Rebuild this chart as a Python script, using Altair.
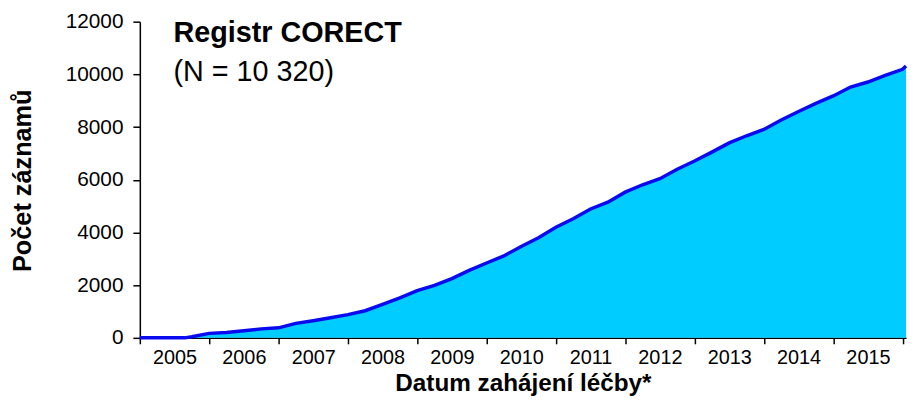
import altair as alt
import pandas as pd

# Cumulative number of records by treatment start date (fractional years)
dates = [2005.00, 2005.25, 2005.50, 2005.65, 2005.75, 2006.00, 2006.25, 2006.50, 2006.75,
         2007.00, 2007.25, 2007.50, 2007.75, 2008.00, 2008.25, 2008.50, 2008.75,
         2009.00, 2009.25, 2009.50, 2009.75, 2010.00, 2010.25, 2010.50, 2010.75,
         2011.00, 2011.25, 2011.50, 2011.75, 2012.00, 2012.25, 2012.50, 2012.75,
         2013.00, 2013.25, 2013.50, 2013.75, 2014.00, 2014.25, 2014.50, 2014.75,
         2015.00, 2015.25, 2015.50, 2015.75, 2016.00, 2016.05]
records = [0, 0, 0, 0, 40, 170, 200, 270, 340,
           380, 550, 650, 760, 880, 1030, 1270, 1520,
           1790, 1990, 2250, 2560, 2840, 3110, 3470, 3800,
           4200, 4520, 4890, 5150, 5530, 5810, 6040, 6400,
           6710, 7050, 7400, 7670, 7910, 8270, 8590, 8900,
           9180, 9520, 9710, 9960, 10190, 10320]
year_ticks = list(range(2005, 2017))
y_ticks = [0, 2000, 4000, 6000, 8000, 10000, 12000]

title_main = "Registr CORECT"
title_sub = "(N = 10 320)"
x_title = "Datum zahájení léčby*"
y_title = "Počet záznamů"

df = pd.DataFrame({"date": dates, "n": records})

FONT = "Liberation Sans"

x = alt.X("date:Q",
          scale=alt.Scale(domain=[2005, 2016.05], nice=False, zero=False),
          axis=alt.Axis(values=year_ticks, title=x_title,
                        labelExpr="datum.value < 2016 ? toString(datum.value) : ''",
                        labelOffset=35, labelPadding=4, labelFlush=False,
                        labelOverlap=False, tickSize=6, labelFontSize=20,
                        titleFontSize=24.5, titleY=53, titleBaseline="alphabetic"))
y = alt.Y("n:Q",
          scale=alt.Scale(domain=[0, 12000], nice=False),
          axis=alt.Axis(values=y_ticks, format="d", title=y_title, tickSize=7,
                        labelPadding=10, labelFontSize=21, titleFontSize=25.5,
                        titleX=-110, titleY=160, titleAngle=270,
                        titleAlign="center", titleBaseline="alphabetic"))

area = alt.Chart(df).mark_area(color="#00CCFF", interpolate="linear").encode(x=x, y=y)
line = alt.Chart(df).mark_line(color="#0A0AF0", strokeWidth=3.5).encode(x="date:Q", y="n:Q")

t1 = alt.Chart(pd.DataFrame({"t": [title_main]})).mark_text(
    align="left", baseline="alphabetic", font=FONT, fontSize=29, fontWeight="bold",
    color="black").encode(text="t:N", x=alt.value(34), y=alt.value(21))
t2 = alt.Chart(pd.DataFrame({"t": [title_sub]})).mark_text(
    align="left", baseline="alphabetic", font=FONT, fontSize=29,
    color="black").encode(text="t:N", x=alt.value(34), y=alt.value(60))

chart = alt.layer(area, line, t1, t2).properties(
    width=773, height=319,
    background="white",
    autosize=alt.AutoSizeParams(type="none"),
    padding={"left": 133, "top": 12, "right": 2, "bottom": 70},
).configure_view(stroke=None).configure_axis(
    grid=False, domainColor="black", tickColor="black", labelColor="black",
    titleColor="black", labelFont=FONT, titleFont=FONT,
    titleFontWeight="bold", domainWidth=1.5, tickWidth=1.5
)

chart.save("out.html", embed_options={"renderer": "svg", "actions": False})
